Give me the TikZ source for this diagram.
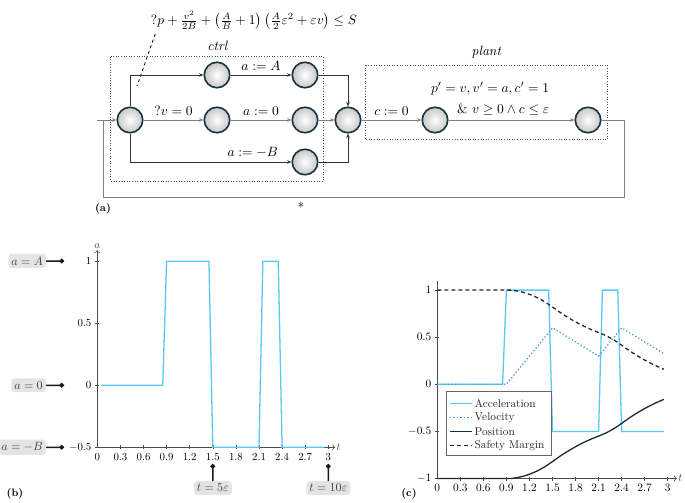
\documentclass[tikz,border=0pt]{standalone}
\usetikzlibrary{arrows.meta,positioning}

\definecolor{accblue}{RGB}{90,200,245}
\definecolor{velblue}{RGB}{65,160,215}
\definecolor{posnavy}{RGB}{28,42,58}
\definecolor{ringcol}{RGB}{28,52,64}
\definecolor{tagfill}{RGB}{228,228,228}

\tikzset{
  loc/.style={circle,draw=ringcol,line width=1.6pt,minimum size=25.5pt,inner sep=0pt,
    shading=radial,inner color=white,outer color=black!22},
  trans/.style={-{Stealth[length=4.5pt,width=3.5pt]},black!80,line width=0.8pt},
  flow/.style={trans,black!50},
  group/.style={draw=black!70,dotted,line width=0.6pt},
  big/.style={scale=1.35,text=black},
  mid/.style={scale=1.13},
  sml/.style={scale=1.08},
  tag/.style={fill=tagfill,rounded corners=3pt,inner sep=2.5pt,text=black!75,scale=1.2},
  pin/.style={-{Circle[length=4.5pt]},line width=1.5pt,black!90},
  axis/.style={black!70,line width=0.6pt},
  accl/.style={accblue,line width=1.3pt},
  vell/.style={velblue,line width=1.3pt,dash pattern=on 1.3pt off 2.2pt},
  posl/.style={posnavy,line width=1.3pt},
  marg/.style={black!85,line width=1.3pt,dash pattern=on 4pt off 3pt},
}

\begin{document}
\begin{tikzpicture}[x=1pt,y=-1pt]
	\useasboundingbox (0,0) rectangle (685,503);
	% (a) hybrid program
	\draw[group] (110.7,56.7) rectangle (323.3,181);
	\draw[group] (365,65) rectangle (607.3,139.3);
	\node[big] at (218,46) {$\mathit{ctrl}$};
	\node[big] at (487,52) {$\mathit{plant}$};
	\node[big] (guard) at (254,20) {$?p+\frac{v^2}{2B}+\left(\frac{A}{B}+1\right)\left(\frac{A}{2}\varepsilon^2+\varepsilon v\right)\le S$};
	\node[loc] (i0) at (130,120) {};
	\node[loc] (u1) at (217,75) {};
	\node[loc] (u2) at (305,75) {};
	\node[loc] (m1) at (217,120) {};
	\node[loc] (m2) at (305,120) {};
	\node[loc] (d2) at (305,162) {};
	\node[loc] (jn) at (348,120) {};
	\node[loc] (p1) at (435,120) {};
	\node[loc] (p2) at (588,120) {};
	\coordinate (gd) at (137,86);
	\coordinate (in) at (97,120);
	\coordinate (fin) at (103,120);
	\coordinate (fb) at (624,197);
	\draw[dashed,line width=0.8pt] ([xshift=9pt]guard.south west) -- (gd);
	\draw[trans] (i0) |- (u1);
	\draw[trans] (u1) -- node[above=-1pt,big] {$a:=A$} (u2);
	\draw[trans] (u2) -| (jn);
	\draw[flow] (i0) -- node[above=-1pt,big] {$?v=0$} (m1);
	\draw[flow] (m1) -- node[above=-1pt,big] {$a:=0$} (m2);
	\draw[flow] (m2) -- (jn);
	\draw[trans] (i0) |- node[above=-1pt,pos=0.88,big] {$a:=-B$} (d2);
	\draw[trans] (d2) -| (jn);
	\draw[flow] (jn) -- node[above=-1pt,big] {$c:=0$} (p1);
	\draw[flow] (p1) -- node[above=0pt,align=right,pos=0.33,big] {$p'=v,v'=a,c'=1$\\[3pt]$\&\ v\ge0\wedge c\le\varepsilon$} (p2);
	\draw[flow,-] (p2) -| (fb) -| node[below,pos=0.31,big] {$*$} (fin);
	\draw[flow] (in) -- (i0);
	\node[font=\bfseries,sml] at (103,209) {(a)};

	% (b) acceleration choices
	\begin{scope}[shift={(97.3pt,-385.3pt)},x=77pt,y=124pt]
		\draw[axis,->] (0,-0.5) -- (3.09,-0.5) node[right,inner sep=1pt,sml] {$t$};
		\draw[axis,->] (0,-0.5) -- (0,1.09) node[above,inner sep=1pt,sml] {$a$};
		\foreach \t in {0.3,0.6,0.9,1.2,1.5,1.8,2.1,2.4,2.7,3}
			\draw[axis] ([yshift=2pt]\t,-0.5) -- ([yshift=-2pt]\t,-0.5) node[below,text=black,sml] {$\t$};
		\node[below,sml] at ([yshift=-2pt]0,-0.5) {$0$};
		\foreach \v/\l in {-0.5/-0.5,0/0,0.5/0.5,1/1}
			\draw[axis] ([xshift=2pt]0,\v) -- ([xshift=-2pt]0,\v) node[left,text=black,sml] {$\l$};
		\draw[accl] plot coordinates {(0.05,0) (0.85,0) (0.9,1) (1.45,1) (1.5,-0.5) (2.1,-0.5) (2.15,1) (2.35,1) (2.4,-0.5) (2.95,-0.5)};
	\end{scope}
	\node[tag,anchor=east] (tgA) at (46,261) {$a=A$};
	\node[tag,anchor=east] (tg0) at (46,385.3) {$a=0$};
	\node[tag,anchor=east] (tgB) at (46,447.3) {$a=-B$};
	\node[tag,anchor=north] (tg5) at (212.8,481) {$t=5\varepsilon$};
	\node[tag,anchor=north] (tg10) at (328.3,481) {$t=10\varepsilon$};
	\coordinate (dA) at (64,261);
	\coordinate (d0) at (64,385.3);
	\coordinate (dB) at (64,447.3);
	\coordinate (d5) at (212.8,464);
	\coordinate (d10) at (328.3,464);
	\draw[pin] (tgA) -- (dA);
	\draw[pin] (tg0) -- (d0);
	\draw[pin] (tgB) -- (dB);
	\draw[pin] (tg5) -- (d5);
	\draw[pin] (tg10) -- (d10);
	\node[font=\bfseries,sml] at (15,494) {(b)};

	% (c) simulation run
	\begin{scope}[shift={(437.3pt,-384.3pt)},x=76.8pt,y=94.2pt]
		\draw[axis,->] (0,-1) -- (3.12,-1) node[right,inner sep=1pt,mid] {$t$};
		\draw[axis] (0,-1) -- (0,1.1);
		\foreach \t in {0.3,0.6,0.9,1.2,1.5,1.8,2.1,2.4,2.7,3}
			\draw[axis] ([yshift=2pt]\t,-1) -- ([yshift=-2pt]\t,-1) node[below,text=black,mid] {$\t$};
		\node[below,mid] at ([yshift=-2pt]0,-1) {$0$};
		\foreach \v/\l in {-1/-1,-0.5/-0.5,0/0,0.5/0.5,1/1}
			\draw[axis] ([xshift=2pt]0,\v) -- ([xshift=-2pt]0,\v) node[left,text=black,mid] {$\l$};
		\draw[accl] plot coordinates {(0,0) (0.85,0) (0.9,1) (1.45,1) (1.5,-0.5) (2.1,-0.5) (2.15,1) (2.35,1) (2.4,-0.5) (2.95,-0.5)};
		\draw[vell] plot coordinates {(0,0) (0.9,0) (1.5,0.6) (2.1,0.3) (2.4,0.6) (2.95,0.325)};
		\draw[posl] plot[smooth] coordinates {(0,-1) (0.9,-1) (1.0,-0.995) (1.1,-0.98) (1.2,-0.955) (1.3,-0.92) (1.4,-0.875) (1.5,-0.82) (1.6,-0.7625) (1.7,-0.71) (1.8,-0.6625) (1.9,-0.62) (2.0,-0.5825) (2.1,-0.55) (2.2,-0.515) (2.3,-0.47) (2.4,-0.415) (2.5,-0.3575) (2.6,-0.305) (2.7,-0.2575) (2.8,-0.215) (2.9,-0.1775) (2.95,-0.16)};
		\draw[marg] plot[smooth] coordinates {(0,1) (0.9,1) (1.0,0.995) (1.1,0.98) (1.2,0.955) (1.3,0.92) (1.4,0.875) (1.5,0.82) (1.6,0.7625) (1.7,0.71) (1.8,0.6625) (1.9,0.62) (2.0,0.5825) (2.1,0.55) (2.2,0.515) (2.3,0.47) (2.4,0.415) (2.5,0.3575) (2.6,0.305) (2.7,0.2575) (2.8,0.215) (2.9,0.1775) (2.95,0.16)};
		% legend
		\draw[black!60,fill=white,line width=0.6pt] (0.113,-0.079) rectangle (1.49,-0.758);
		\foreach \s/\n/\yy in {accl/Acceleration/-0.202,vell/Velocity/-0.350,posl/Position/-0.503,marg/Safety Margin/-0.652}
			\draw[\s] (0.165,\yy) -- (0.448,\yy) node[right,text=black!85,inner sep=2pt,mid] {\n};
	\end{scope}
	\node[font=\bfseries,sml] at (409,494) {(c)};
\end{tikzpicture}
\end{document}
